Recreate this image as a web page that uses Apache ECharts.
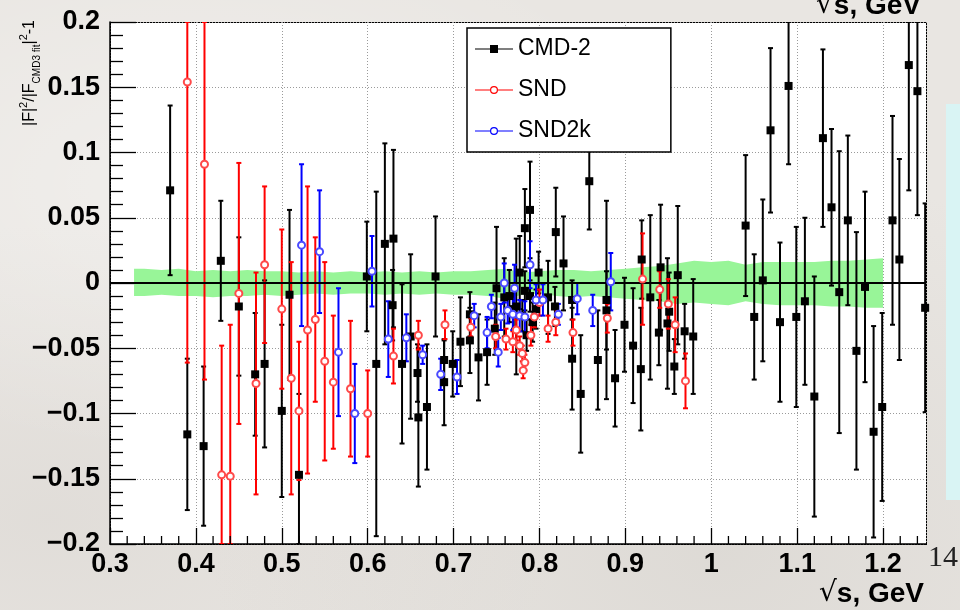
<!DOCTYPE html>
<html>
<head>
<meta charset="utf-8">
<script src="https://cdn.jsdelivr.net/npm/echarts@6/dist/echarts.min.js"></script>
<style>
  html, body { margin: 0; padding: 0; width: 960px; height: 610px; overflow: hidden; }
  body {
    position: relative;
    background-color: #e9e6e2;
    background-image:
      radial-gradient(ellipse at 20% 30%, rgba(255,255,255,0.35), rgba(255,255,255,0) 45%),
      radial-gradient(ellipse at 75% 90%, rgba(200,196,190,0.35), rgba(200,196,190,0) 50%),
      radial-gradient(ellipse at 5% 85%, rgba(205,200,195,0.3), rgba(205,200,195,0) 40%);
  }
  /* white framed plotting area and the side panel sit under the transparent chart canvas */
  #plotbg {
    position: absolute; left: 110px; top: 22px; width: 817px; height: 523px;
    box-sizing: border-box; background: #ffffff; border: 1px solid #000;
  }
  #sidepanel { position: absolute; left: 946px; top: 104px; width: 14px; height: 396px; background: #d9f4f4; }
  #chart { position: absolute; left: 0; top: 0; width: 960px; height: 610px; }
</style>
</head>
<body>
<div id="plotbg"></div>
<div id="sidepanel"></div>
<div id="chart"></div>
<script>
// Relative deviation of the pion form factor from the CMD-3 fit: [sqrt(s) GeV, deviation, error]
const cmd2 = [
  [0.370, 0.071, 0.065], [0.390, -0.116, 0.058], [0.409, -0.125, 0.061], [0.429, 0.017, 0.046],
  [0.450, -0.018, 0.053], [0.469, -0.070, 0.047], [0.480, -0.062, 0.064], [0.500, -0.098, 0.066],
  [0.509, -0.009, 0.065], [0.520, -0.147, 0.062], [0.599, 0.005, 0.042], [0.610, -0.062, 0.132],
  [0.620, 0.030, 0.077], [0.630, 0.034, 0.068], [0.629, -0.017, 0.027], [0.640, -0.062, 0.061],
  [0.650, -0.041, 0.063], [0.658, -0.069, 0.022], [0.659, -0.103, 0.053], [0.669, -0.095, 0.048],
  [0.679, 0.005, 0.046], [0.689, -0.076, 0.033], [0.689, -0.059, 0.015], [0.699, -0.062, 0.025],
  [0.708, -0.045, 0.034], [0.719, -0.024, 0.017], [0.719, -0.044, 0.025], [0.729, -0.057, 0.033],
  [0.739, -0.053, 0.025], [0.748, -0.035, 0.020], [0.750, -0.004, 0.047], [0.759, -0.011, 0.030],
  [0.765, -0.010, 0.020], [0.770, -0.020, 0.015], [0.773, -0.018, 0.052], [0.777, 0.008, 0.028],
  [0.780, -0.025, 0.012], [0.783, -0.006, 0.015], [0.783, 0.042, 0.030], [0.785, -0.040, 0.012],
  [0.789, -0.010, 0.012], [0.789, 0.056, 0.037], [0.792, -0.030, 0.015], [0.796, -0.020, 0.015],
  [0.799, 0.008, 0.016], [0.810, -0.011, 0.028], [0.818, -0.018, 0.015], [0.819, 0.039, 0.034],
  [0.828, 0.015, 0.036], [0.838, -0.013, 0.015], [0.838, -0.058, 0.039], [0.848, -0.085, 0.045],
  [0.858, 0.078, 0.037], [0.868, -0.059, 0.038], [0.878, -0.013, 0.076], [0.878, -0.021, 0.030],
  [0.888, -0.073, 0.037], [0.899, -0.032, 0.036], [0.909, -0.048, 0.044], [0.918, -0.066, 0.047],
  [0.919, 0.018, 0.030], [0.929, -0.011, 0.063], [0.939, -0.038, 0.025], [0.941, 0.012, 0.048],
  [0.949, -0.031, 0.050], [0.951, -0.022, 0.030], [0.957, -0.064, 0.021], [0.961, 0.006, 0.053],
  [0.969, -0.037, 0.021], [0.979, -0.041, 0.044], [1.040, 0.044, 0.054], [1.050, -0.026, 0.048],
  [1.060, 0.002, 0.062], [1.069, 0.117, 0.063], [1.080, -0.030, 0.061], [1.090, 0.151, 0.060],
  [1.099, -0.026, 0.069], [1.109, -0.014, 0.064], [1.120, -0.087, 0.092], [1.130, 0.111, 0.068],
  [1.140, 0.058, 0.060], [1.149, -0.007, 0.108], [1.159, 0.048, 0.065], [1.169, -0.052, 0.091],
  [1.179, -0.003, 0.073], [1.189, -0.114, 0.081], [1.199, -0.095, 0.072], [1.211, 0.048, 0.080],
  [1.219, 0.018, 0.077], [1.230, 0.167, 0.096], [1.240, 0.147, 0.095], [1.249, -0.019, 0.080]
];

const snd = [
  [0.390, 0.154, 0.215], [0.410, 0.091, 0.165], [0.430, -0.147, 0.099], [0.440, -0.148, 0.116],
  [0.450, -0.008, 0.100], [0.470, -0.077, 0.085], [0.480, 0.014, 0.060], [0.500, -0.020, 0.061],
  [0.511, -0.073, 0.089], [0.520, -0.098, 0.053], [0.530, -0.036, 0.110], [0.539, -0.028, 0.063],
  [0.550, -0.060, 0.076], [0.560, -0.076, 0.051], [0.580, -0.081, 0.052], [0.600, -0.100, 0.033],
  [0.630, -0.056, 0.021], [0.659, -0.040, 0.011], [0.690, -0.032, 0.011], [0.720, -0.034, 0.007],
  [0.749, -0.041, 0.009], [0.761, -0.043, 0.008], [0.769, -0.045, 0.008], [0.773, -0.036, 0.008],
  [0.777, -0.048, 0.007], [0.780, -0.054, 0.006], [0.781, -0.067, 0.006], [0.783, -0.061, 0.006],
  [0.790, -0.040, 0.008], [0.794, -0.026, 0.008], [0.800, -0.015, 0.010], [0.810, -0.035, 0.010],
  [0.819, -0.030, 0.010], [0.839, -0.038, 0.010], [0.879, -0.027, 0.011], [0.920, 0.003, 0.035],
  [0.940, -0.005, 0.014], [0.950, -0.016, 0.019], [0.958, -0.032, 0.021], [0.970, -0.075, 0.021]
];

const snd2k = [
  [0.523, 0.029, 0.062], [0.544, 0.024, 0.047], [0.566, -0.053, 0.049], [0.585, -0.100, 0.038],
  [0.605, 0.009, 0.027], [0.624, -0.043, 0.029], [0.645, -0.042, 0.018], [0.664, -0.055, 0.007],
  [0.685, -0.070, 0.012], [0.704, -0.072, 0.013], [0.724, -0.025, 0.009], [0.739, -0.038, 0.012],
  [0.744, -0.018, 0.009], [0.752, -0.053, 0.011], [0.755, -0.026, 0.010], [0.759, 0.000, 0.015],
  [0.763, -0.021, 0.010], [0.769, -0.024, 0.012], [0.771, -0.004, 0.018], [0.777, -0.025, 0.012],
  [0.783, -0.026, 0.012], [0.789, 0.014, 0.018], [0.796, -0.013, 0.012], [0.804, -0.013, 0.012],
  [0.822, -0.024, 0.008], [0.844, -0.012, 0.012], [0.862, -0.021, 0.012], [0.883, 0.001, 0.022]
];

// Uncertainty band of the CMD-3 fit
const bandX = [0.328, 0.34, 0.36, 0.38, 0.40, 0.42, 0.44, 0.46, 0.48, 0.50, 0.52, 0.54, 0.56, 0.58, 0.60,
  0.62, 0.64, 0.66, 0.68, 0.70, 0.72, 0.74, 0.76, 0.78, 0.80, 0.82, 0.84, 0.86, 0.88, 0.90, 0.92, 0.94,
  0.96, 0.98, 1.00, 1.02, 1.04, 1.06, 1.08, 1.10, 1.12, 1.14, 1.16, 1.18, 1.20];
const bandHi = [0.011, 0.011, 0.010, 0.011, 0.009, 0.010, 0.009, 0.010, 0.009, 0.009, 0.008, 0.009, 0.008,
  0.009, 0.008, 0.009, 0.008, 0.009, 0.008, 0.009, 0.009, 0.010, 0.011, 0.008, 0.009, 0.010, 0.010, 0.009,
  0.010, 0.011, 0.012, 0.013, 0.015, 0.017, 0.016, 0.017, 0.014, 0.016, 0.016, 0.016, 0.016, 0.017, 0.017,
  0.018, 0.019];
const bandLo = [-0.010, -0.010, -0.009, -0.010, -0.010, -0.011, -0.010, -0.010, -0.009, -0.010, -0.009,
  -0.008, -0.009, -0.008, -0.008, -0.009, -0.008, -0.009, -0.008, -0.009, -0.009, -0.010, -0.012, -0.009,
  -0.008, -0.010, -0.011, -0.010, -0.011, -0.012, -0.013, -0.014, -0.016, -0.015, -0.016, -0.017, -0.014,
  -0.016, -0.017, -0.017, -0.017, -0.018, -0.018, -0.019, -0.019];

// Minor ticks along the energy axis (every 0.02 GeV between the labelled ticks)
const xMajorTicks = [0.3, 0.4, 0.5, 0.6, 0.7, 0.8, 0.9, 1.0, 1.1, 1.2];
const X_MINOR_STEP = 0.02;

const X_MIN = 0.3, X_MAX = 1.25, Y_MIN = -0.2, Y_MAX = 0.2;
const FONT = "'Liberation Sans', Arial, Helvetica, sans-serif";
const GRID = { left: 110, right: 34, top: 22, bottom: 66 };

const fmtNum = v => {
  const a = +Math.abs(v).toFixed(3);
  return (v < -1e-9 ? '\u2212' : '') + String(a);
};

const xMinorTicks = [];
for (let k = 0; X_MIN + k * X_MINOR_STEP < X_MAX - 1e-9; k++) {
  const v = +(X_MIN + k * X_MINOR_STEP).toFixed(4);
  if (!xMajorTicks.some(m => Math.abs(m - v) < 1e-6)) xMinorTicks.push(v);
}

function errorBars(name, data, color, width, z) {
  return {
    type: 'custom', name, data, z, silent: true, clip: true,
    encode: { x: 0, y: 1 },
    renderItem(params, api) {
      const x = api.value(0), y = api.value(1), e = api.value(2);
      const p1 = api.coord([x, Math.min(y + e, Y_MAX)]);
      const p2 = api.coord([x, Math.max(y - e, Y_MIN)]);
      const cap = 2.5;
      const st = { stroke: color, lineWidth: width };
      return {
        type: 'group',
        children: [
          { type: 'line', shape: { x1: p1[0], y1: p1[1], x2: p2[0], y2: p2[1] }, style: st },
          { type: 'line', shape: { x1: p1[0] - cap, y1: p1[1], x2: p1[0] + cap, y2: p1[1] }, style: st },
          { type: 'line', shape: { x1: p2[0] - cap, y1: p2[1], x2: p2[0] + cap, y2: p2[1] }, style: st }
        ]
      };
    }
  };
}

const ICON_SQUARE = 'path://M0,3.4H15V0H23V3.4H38V4.6H23V8H15V4.6H0Z';
const ICON_RING = 'path://M0,3.4H15V4.6H0Z M23,3.4H38V4.6H23Z M15,4A4,4 0 1,0 23,4A4,4 0 1,0 15,4Z M16.2,4A2.8,2.8 0 1,1 21.8,4A2.8,2.8 0 1,1 16.2,4Z';

const chart = echarts.init(document.getElementById('chart'), null, { renderer: 'canvas' });

chart.setOption({
  animation: false,
  backgroundColor: 'transparent',
  grid: Object.assign({ show: false }, GRID),
  xAxis: {
    type: 'value', min: X_MIN, max: X_MAX, interval: 0.1,
    axisLine: { show: true, onZero: false, lineStyle: { color: '#000', width: 1.5 } },
    axisTick: { show: true, inside: true, length: 16, lineStyle: { color: '#000', width: 1.3 } },
    splitLine: { show: true, lineStyle: { color: '#9a9a9a', width: 1, type: [1, 2] } },
    axisLabel: {
      show: true, showMaxLabel: false, margin: 7, color: '#000',
      fontSize: 27, fontWeight: 'bold', fontFamily: FONT, formatter: fmtNum
    }
  },
  yAxis: {
    type: 'value', min: Y_MIN, max: Y_MAX, interval: 0.05,
    axisLine: { show: true, onZero: false, lineStyle: { color: '#000', width: 1.5 } },
    axisTick: { show: true, inside: true, length: 26, lineStyle: { color: '#000', width: 1.3 } },
    minorTick: { show: true, splitNumber: 5, length: 13, lineStyle: { color: '#000', width: 1.3 } },
    splitLine: { show: true, lineStyle: { color: '#9a9a9a', width: 1, type: [1, 2] } },
    axisLabel: {
      show: true, margin: 10, color: '#000',
      fontSize: 27, fontWeight: 'bold', fontFamily: FONT, formatter: fmtNum
    }
  },
  legend: {
    orient: 'vertical', left: 467, top: 28, z: 10,
    itemWidth: 38, itemHeight: 8, itemGap: 17,
    padding: [9, 80, 9, 8],
    backgroundColor: '#ffffff', borderColor: '#000', borderWidth: 1.5,
    selectedMode: false,
    textStyle: { fontSize: 23, color: '#000', fontFamily: FONT, lineHeight: 24 },
    data: [
      { name: 'CMD-2', icon: ICON_SQUARE, itemStyle: { color: '#000', borderWidth: 0 } },
      { name: 'SND', icon: ICON_RING, itemStyle: { color: '#ff0000', borderWidth: 0 } },
      { name: 'SND2k', icon: ICON_RING, itemStyle: { color: '#0000ff', borderWidth: 0 } }
    ]
  },
  series: [
    {
      type: 'custom', name: 'band', z: 1, silent: true, clip: true,
      data: [[bandX[0], bandHi[0]]],
      encode: { x: 0, y: 1 },
      renderItem(params, api) {
        const pts = [];
        for (let i = 0; i < bandX.length; i++) pts.push(api.coord([bandX[i], bandHi[i]]));
        for (let i = bandX.length - 1; i >= 0; i--) pts.push(api.coord([bandX[i], bandLo[i]]));
        return { type: 'polygon', shape: { points: pts }, style: { fill: '#98f598' } };
      }
    },
    {
      // short inward minor ticks on the energy axis, placed through the x scale
      type: 'custom', name: 'xMinorTicks', z: 7, silent: true, clip: false,
      data: [[bandX[0], bandHi[0]]],
      encode: { x: 0, y: 1 },
      renderItem(params, api) {
        const children = xMinorTicks.map(v => {
          const p = api.coord([v, Y_MIN]);
          return {
            type: 'line',
            shape: { x1: p[0], y1: p[1], x2: p[0], y2: p[1] - 8 },
            style: { stroke: '#000', lineWidth: 1.3 }
          };
        });
        return { type: 'group', children };
      }
    },
    Object.assign(errorBars('cmd2Err', cmd2, '#000000', 2, 3), {
      markLine: {
        silent: true, symbol: 'none', z: 4,
        label: { show: false },
        lineStyle: { color: '#000', width: 2, type: 'solid' },
        data: [{ yAxis: 0 }]
      }
    }),
    errorBars('sndErr', snd, '#ff0000', 2, 3),
    errorBars('snd2kErr', snd2k, '#0000ff', 2, 3),
    {
      type: 'scatter', name: 'CMD-2', data: cmd2, z: 6, silent: true,
      encode: { x: 0, y: 1 },
      symbol: 'rect', symbolSize: 8,
      itemStyle: { color: '#000', opacity: 1 }
    },
    {
      type: 'scatter', name: 'SND', data: snd, z: 6, silent: true,
      encode: { x: 0, y: 1 },
      symbol: 'emptyCircle', symbolSize: 7,
      itemStyle: { color: '#ff4a4a', borderWidth: 1.2, opacity: 1 }
    },
    {
      type: 'scatter', name: 'SND2k', data: snd2k, z: 6, silent: true,
      encode: { x: 0, y: 1 },
      symbol: 'emptyCircle', symbolSize: 7,
      itemStyle: { color: '#4a4aff', borderWidth: 1.2, opacity: 1 }
    }
  ],
  graphic: [
    {
      type: 'text', x: 30, y: 20, rotation: Math.PI / 2, silent: true,
      style: {
        text: '|F|{sup|2}/|F{sub|CMD3 fit}|{sup|2}-1',
        font: '16px ' + FONT, fill: '#000', align: 'right', verticalAlign: 'middle',
        rich: {
          sup: { fontSize: 11, fontFamily: FONT, verticalAlign: 'top', lineHeight: 24 },
          sub: { fontSize: 10, fontFamily: FONT, verticalAlign: 'bottom', lineHeight: 24 }
        }
      }
    },
    {
      type: 'text', x: 819, y: 594, silent: true,
      style: {
        text: '{r|\u221A}s, GeV', fill: '#000', align: 'left', verticalAlign: 'middle',
        font: 'bold 28px ' + FONT,
        rich: { r: { fontSize: 28, fontWeight: 'normal', fontFamily: "'DejaVu Sans', sans-serif" } }
      }
    },
    {
      type: 'text', x: 816, y: 6, silent: true,
      style: {
        text: '{r|\u221A}s, GeV', fill: '#000', align: 'left', verticalAlign: 'middle',
        font: 'bold 28px ' + FONT,
        rich: { r: { fontSize: 28, fontWeight: 'normal', fontFamily: "'DejaVu Sans', sans-serif" } }
      }
    },
    {
      type: 'text', x: 928, y: 558, silent: true,
      style: {
        text: '14', fill: '#222', align: 'left', verticalAlign: 'middle',
        font: '30px "Liberation Serif", "Times New Roman", serif'
      }
    }
  ]
});
</script>
</body>
</html>
